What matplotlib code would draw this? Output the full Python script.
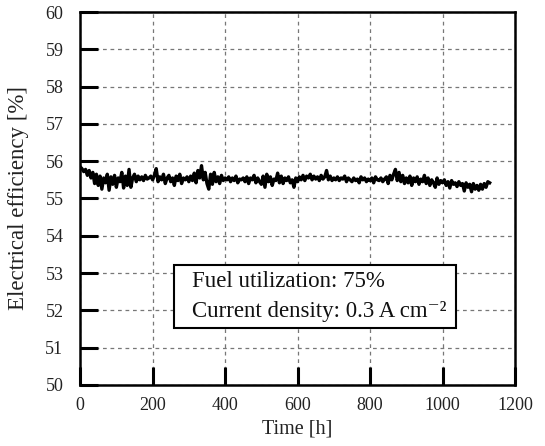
import numpy as np
import matplotlib
matplotlib.use("Agg")
import matplotlib.pyplot as plt
from matplotlib.patches import Rectangle

# time grid [h] and electrical efficiency [%]
time_h = np.arange(0, 1131, 5)
efficiency = [
    55.85, 55.80, 55.72, 55.78, 55.62, 55.75, 55.55, 55.70, 55.40, 55.65, 55.35,
    55.60, 55.25, 55.55, 55.42, 55.65, 55.22, 55.58, 55.38, 55.62, 55.30,
    55.55, 55.45, 55.70, 55.28, 55.60, 55.35, 55.78, 55.30, 55.55, 55.65,
    55.45, 55.60, 55.50, 55.58, 55.48, 55.62, 55.52, 55.55, 55.60, 55.50,
    55.62, 55.80, 55.45, 55.58, 55.50, 55.65, 55.40, 55.55, 55.62, 55.45,
    55.55, 55.35, 55.60, 55.48, 55.65, 55.40, 55.55, 55.50, 55.58, 55.45,
    55.60, 55.48, 55.68, 55.42, 55.75, 55.55, 55.88, 55.50, 55.70, 55.40,
    55.25, 55.65, 55.38, 55.70, 55.45, 55.58, 55.40, 55.62, 55.48, 55.55,
    55.50, 55.58, 55.45, 55.55, 55.48, 55.60, 55.42, 55.52, 55.50, 55.55,
    55.45, 55.58, 55.40, 55.55, 55.50, 55.62, 55.42, 55.55, 55.45, 55.38,
    55.60, 55.30, 55.65, 55.45, 55.58, 55.35, 55.52, 55.48, 55.68, 55.42,
    55.60, 55.40, 55.55, 55.48, 55.58, 55.42, 55.50, 55.30, 55.55, 55.45,
    55.58, 55.50, 55.62, 55.48, 55.60, 55.55, 55.65, 55.50, 55.60, 55.52,
    55.58, 55.48, 55.62, 55.52, 55.58, 55.75, 55.50, 55.60, 55.48, 55.55,
    55.50, 55.58, 55.48, 55.55, 55.52, 55.60, 55.45, 55.55, 55.50, 55.45,
    55.55, 55.48, 55.52, 55.42, 55.58, 55.50, 55.55, 55.45, 55.52, 55.48,
    55.55, 55.42, 55.58, 55.50, 55.48, 55.55, 55.45, 55.52, 55.58, 55.40,
    55.62, 55.50, 55.65, 55.78, 55.48, 55.70, 55.45, 55.62, 55.40, 55.55,
    55.42, 55.60, 55.35, 55.55, 55.45, 55.58, 55.38, 55.52, 55.45, 55.62,
    55.40, 55.55, 55.35, 55.50, 55.42, 55.30, 55.55, 55.38, 55.48, 55.42,
    55.50, 55.35, 55.45, 55.28, 55.48, 55.38, 55.42, 55.32, 55.45, 55.35,
    55.40, 55.20, 55.42, 55.30, 55.38, 55.18, 55.40, 55.25, 55.35, 55.22,
    55.38, 55.25, 55.40, 55.30, 55.45, 55.42,
]
x_ticks = [0, 200, 400, 600, 800, 1000, 1200]
y_ticks = list(range(50, 61))
box_lines = ['Fuel utilization: 75%', 'Current density: 0.3 A cm⁻²']

plt.rcParams['font.family'] = ['Liberation Serif', 'DejaVu Serif']

fig = plt.figure(figsize=(5.45, 4.46), dpi=100)
ax = fig.add_axes([0.147, 0.137, 0.798, 0.836])

ax.plot(time_h, efficiency, color='black', linewidth=2.4, zorder=3)

ax.set_xlim(0, 1200)
ax.set_ylim(50, 60)
ax.set_xticks(x_ticks)
ax.set_yticks(y_ticks)
ax.tick_params(direction='in', length=13, width=2.2, labelsize=13,
               labelcolor='#222222')
ax.tick_params(axis='y', pad=12)
ax.tick_params(axis='x', pad=9)
ax.grid(True, linestyle=(0, (3, 3)), color='#777777', linewidth=0.9)
for spine in ax.spines.values():
    spine.set_linewidth(1.8)
    spine.set_zorder(5)

ax.set_xlabel('Time [h]', fontsize=14.5, color='#222222', labelpad=4)
ax.set_ylabel('Electrical efficiency [%]', fontsize=16.5, color='#222222', labelpad=12)

# condition box
ax.add_patch(Rectangle((259, 51.53), 778, 1.69, facecolor='white',
                       edgecolor='black', linewidth=1.5, zorder=4))
ax.text(309, 52.63, box_lines[0], fontsize=16.5, color='#111111',
        ha='left', va='baseline', zorder=5)
ax.text(309, 51.82, box_lines[1], fontsize=16.5, color='#111111',
        ha='left', va='baseline', zorder=5)

fig.savefig('out.png', dpi=100)
